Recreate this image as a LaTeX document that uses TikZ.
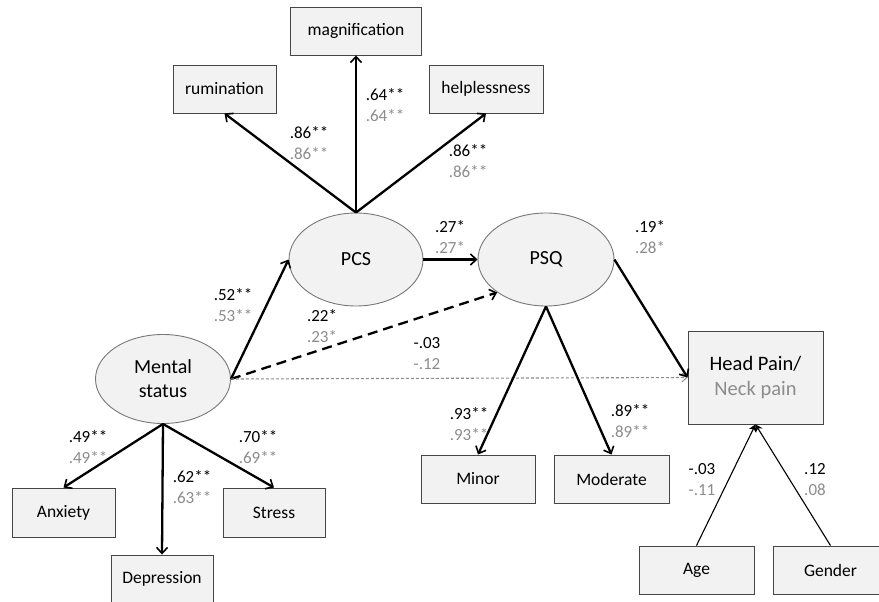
\documentclass[tikz,border=0pt]{standalone}
\usepackage{fontspec}
\setmainfont{Carlito}
\usetikzlibrary{arrows.meta,shapes.geometric}
\definecolor{lab}{RGB}{140,140,140}
\definecolor{boxfill}{RGB}{242,242,242}
\definecolor{boxdraw}{RGB}{70,70,70}
\definecolor{elldraw}{RGB}{120,120,120}
\tikzset{
  obsbox/.style={draw=boxdraw,fill=boxfill,line width=0.9pt,inner sep=0pt,
    font=\fontsize{17.5}{20}\selectfont},
  latent/.style={ellipse,draw=elldraw,fill=boxfill,line width=0.9pt,inner sep=0pt,
    font=\fontsize{20}{24}\selectfont,align=center},
  path/.style={line width=2.3pt,-{Straight Barb[length=6pt,width=11pt,line width=1.6pt]}},
  dpath/.style={path,dash pattern=on 10pt off 6pt},
  thinpath/.style={draw=lab,line width=1.1pt,dash pattern=on 3pt off 2pt,
    -{Straight Barb[length=5pt,width=9pt,line width=1pt]}},
  covpath/.style={line width=1.1pt},
  wlabel/.style={font=\fontsize{17}{21}\selectfont,align=left,inner sep=0pt}
}
\newcommand{\wl}[5]{\node[wlabel] (#1) at (#2,#3) {#4\\\textcolor{lab}{#5}};}
\begin{document}
\begin{tikzpicture}[x=1pt,y=-1pt]
\useasboundingbox (0,0) rectangle (879,602);
% boxes
\node[obsbox,minimum width=131pt,minimum height=48pt] (mag) at (356,31) {magnification};
\node[obsbox,minimum width=103pt,minimum height=48pt] (rum) at (224.5,89) {rumination};
\node[obsbox,minimum width=114pt,minimum height=48pt] (help) at (486,89) {helplessness};
\node[obsbox,minimum width=103pt,minimum height=49pt] (anx) at (63.5,512.5) {Anxiety};
\node[obsbox,minimum width=102pt,minimum height=49pt] (str) at (274,512.5) {Stress};
\node[obsbox,minimum width=102pt,minimum height=48pt] (dep) at (162,579) {Depression};
\node[obsbox,minimum width=114pt,minimum height=48pt] (minor) at (478,479) {Minor};
\node[obsbox,minimum width=115pt,minimum height=48pt] (mod) at (611.5,479) {Moderate};
\node[obsbox,minimum width=135pt,minimum height=93pt,align=center,
  font=\fontsize{20.5}{25}\selectfont] (hp) at (755.5,377.5) {Head Pain/\\\textcolor{lab}{Neck pain}};
\node[obsbox,minimum width=115pt,minimum height=48pt] (age) at (696.5,570) {Age};
\node[obsbox,minimum width=115pt,minimum height=48pt] (gen) at (830.5,570) {Gender};
% latent
\node[latent,minimum width=134pt,minimum height=93pt] (pcs) at (356,259.5) {PCS};
\node[latent,minimum width=136pt,minimum height=93pt] (psq) at (546,259.5) {PSQ};
\node[latent,minimum width=135pt,minimum height=89pt] (ms) at (163,379) {Mental\\status};
% connectors
\draw[path] (pcs.north) -- (rum.south);
\draw[path] (pcs.north) -- (mag.south);
\draw[path] (pcs.north) -- (help.south);
\draw[path] (pcs.east) -- (psq.west);
\draw[path] (ms.east) -- (pcs.west);
\draw[dpath] (ms.east) -- (psq.214);
\draw[thinpath] (ms.east) -- (hp.west);
\draw[path] (psq.south) -- (minor.north);
\draw[path] (psq.south) -- (mod.north);
\draw[path] (psq.east) -- (hp.west);
\draw[path] (ms.south) -- (anx.north);
\draw[path] (ms.south) -- (dep.north);
\draw[path] (ms.south) -- (str.north);
\draw[covpath,-{Stealth[length=7pt,width=8pt]}] (age.north) -- (hp.south);
\draw[covpath,-{Stealth[length=7pt,width=8pt]}] (gen.north) -- (hp.south);
% labels
\wl{l1}{309}{143}{.86**}{.86**}
\wl{l2}{385}{105}{.64**}{.64**}
\wl{l3}{468}{161}{.86**}{.86**}
\wl{l4}{450}{237}{.27*}{.27*}
\wl{l5}{233}{305}{.52**}{.53**}
\wl{l6}{322}{326}{.22*}{.23*}
\wl{l7}{427}{354}{-.03}{-.12}
\wl{l8}{650}{237}{.19*}{.28*}
\wl{l9}{88}{447}{.49**}{.49**}
\wl{l10}{192}{487}{.62**}{.63**}
\wl{l11}{258}{447}{.70**}{.69**}
\wl{l12}{469}{424}{.93**}{.93**}
\wl{l13}{630}{421}{.89**}{.89**}
\wl{l14}{702}{480}{-.03}{-.11}
\wl{l15}{815}{480}{.12}{.08}
\end{tikzpicture}
\end{document}
